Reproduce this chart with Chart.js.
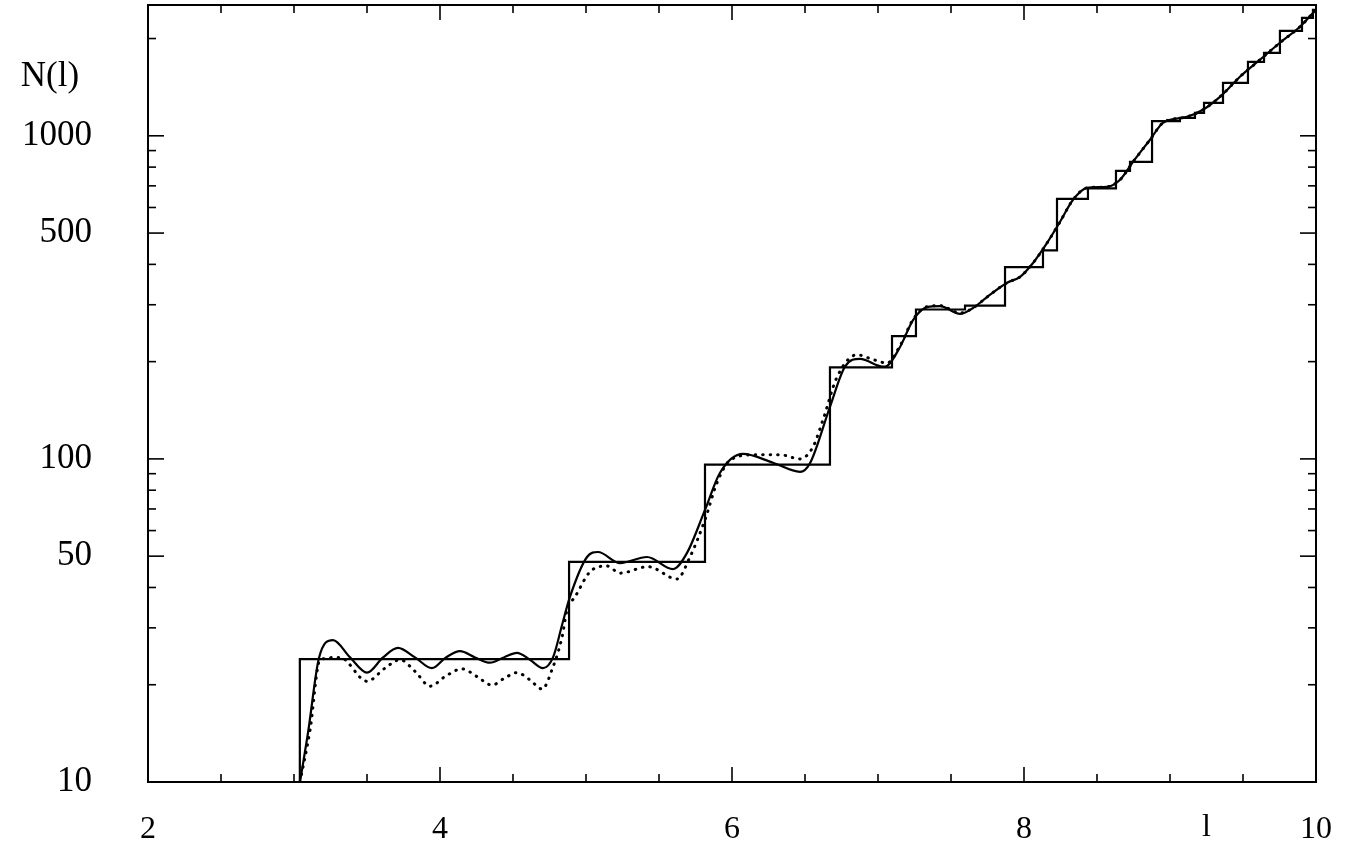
<!DOCTYPE html>
<html>
<head>
<meta charset="utf-8">
<script src="https://cdn.jsdelivr.net/npm/chart.js@4.4.1/dist/chart.umd.min.js"></script>
<style>
    html, body { margin: 0; padding: 0; background: #fff; }
    #wrap { width: 1349px; height: 845px; }
</style>
</head>
<body>
<div id="wrap"><canvas id="countChart" width="1349" height="845"></canvas></div>
<script>
/* ===============================
   DATA
================================ */
// staircase: l where N jumps, and the new N
const stairL = [2.0, 3.04, 4.884, 5.815, 6.671, 7.096, 7.26, 7.596, 7.87, 8.13, 8.226, 8.438, 8.63, 8.726, 8.877, 9.068, 9.171, 9.233, 9.363, 9.534, 9.644, 9.753, 9.904, 9.979, 10.0];
const stairN = [5, 24, 48, 96, 192, 240, 290, 298, 392, 442, 638, 688, 779, 830, 1110, 1137, 1178, 1265, 1459, 1694, 1807, 2113, 2318, 2455, 2455];

// smooth solid curve
const solidL = [3.041, 3.096, 3.171, 3.267, 3.384, 3.5, 3.61, 3.712, 3.829, 3.945, 4.041, 4.137, 4.24, 4.342, 4.438, 4.527, 4.616, 4.705, 4.774, 4.836, 4.89, 5.007, 5.082, 5.233, 5.418, 5.596, 5.692, 5.815, 5.918, 6.075, 6.281, 6.466, 6.534, 6.671, 6.774, 6.877, 7.034, 7.062, 7.151, 7.24, 7.336, 7.425, 7.562, 7.651, 7.747, 7.884, 7.973, 8.062, 8.158, 8.247, 8.336, 8.432, 8.568, 8.658, 8.747, 8.863, 8.952, 9.116, 9.226, 9.342, 9.479, 9.616, 9.753, 9.89, 10.0];
const solidN = [10, 14.2, 24.2, 27.5, 24.3, 21.8, 24.3, 26.0, 24.3, 22.5, 24.3, 25.4, 24.3, 23.4, 24.3, 25.1, 23.9, 22.5, 24.3, 30.6, 37.4, 49.7, 51.5, 47.6, 49.7, 45.6, 51.2, 69.5, 90.6, 103.6, 97.3, 91.2, 97, 145, 193, 204, 193, 194, 222, 269, 295, 297, 281, 293, 317, 351, 366, 404, 466, 542, 634, 690, 695, 731, 831, 972, 1097, 1145, 1204, 1320, 1523, 1719, 1941, 2175, 2455];

// dotted curve
const dottedL = [3.041, 3.11, 3.178, 3.315, 3.5, 3.623, 3.726, 3.829, 3.932, 4.041, 4.151, 4.253, 4.356, 4.445, 4.527, 4.616, 4.699, 4.774, 4.836, 4.87, 4.925, 5.027, 5.144, 5.233, 5.425, 5.623, 5.712, 5.815, 5.897, 5.986, 6.144, 6.329, 6.466, 6.555, 6.623, 6.719, 6.856, 6.966, 7.062, 7.151, 7.24, 7.336, 7.425, 7.562, 7.651, 7.747, 7.884, 7.973, 8.062, 8.158, 8.247, 8.336, 8.432, 8.568, 8.658, 8.747, 8.863, 8.952, 9.116, 9.226, 9.342, 9.479, 9.616, 9.753, 9.89, 10.0];
const dottedN = [10, 14.5, 23.9, 24.3, 20.5, 22.5, 23.9, 22.0, 19.8, 21.3, 22.4, 21.2, 19.95, 21.0, 21.8, 20.7, 19.4, 22.7, 28.1, 34.1, 37.4, 44.7, 46.6, 44.3, 46.4, 42.5, 49.7, 64.8, 84.3, 99, 102.9, 103, 100, 109, 132, 179, 210, 203, 198, 224, 270, 296, 298, 283, 293, 317, 351, 366, 404, 466, 542, 634, 690, 695, 731, 831, 972, 1097, 1145, 1204, 1320, 1523, 1719, 1941, 2175, 2455];

// axis ticks
const xLabelTicks = [2, 4, 6, 8, 10];
const xMinorTicks = [2.5, 3, 3.5, 4.5, 5, 5.5, 6.5, 7, 7.5, 8.5, 9, 9.5];
const yLabelTicks = [10, 50, 100, 500, 1000];
const yMinorTicks = [20, 30, 40, 60, 70, 80, 90, 200, 300, 400, 600, 700, 800, 900, 2000];

const serif = "'Liberation Serif', 'DejaVu Serif', serif";

/* ===============================
   HELPERS
================================ */
const toPoints = (xs, ys) => xs.map((v, i) => ({ x: v, y: ys[i] }));

// frame, inward ticks, axis titles
const frameTicks = {
    id: "frameTicks",
    afterDatasetsDraw(chart) {
        const { ctx, chartArea: a, scales: { x, y } } = chart;
        const seg = (x1, y1, x2, y2) => {
            ctx.beginPath();
            ctx.moveTo(x1, y1);
            ctx.lineTo(x2, y2);
            ctx.stroke();
        };
        ctx.save();
        ctx.strokeStyle = "#000";
        ctx.lineWidth = 2;
        ctx.strokeRect(a.left, a.top, a.right - a.left, a.bottom - a.top);

        ctx.lineWidth = 1.6;
        xLabelTicks.concat(xMinorTicks).forEach(v => {
            const px = x.getPixelForValue(v);
            const len = xLabelTicks.includes(v) ? 15 : 8;
            seg(px, a.bottom, px, a.bottom - len);
            seg(px, a.top, px, a.top + len);
        });
        yLabelTicks.concat(yMinorTicks).forEach(v => {
            const py = y.getPixelForValue(v);
            const len = yLabelTicks.includes(v) ? 16 : 8;
            seg(a.left, py, a.left + len, py);
            seg(a.right, py, a.right - len, py);
        });

        ctx.fillStyle = "#000";
        ctx.font = "35px " + serif;
        ctx.textAlign = "center";
        ctx.textBaseline = "middle";
        ctx.fillText("N(l)", a.left - 98, a.top + 72);
        ctx.font = "32px " + serif;
        ctx.fillText("l", x.getPixelForValue(9.25), a.bottom + 46);
        ctx.restore();
    }
};

/* ===============================
   CHART
================================ */
document.addEventListener("DOMContentLoaded", () => {
    const ctx = document.getElementById("countChart").getContext("2d");

    new Chart(ctx, {
        type: "line",
        data: {
            datasets: [
                {
                    label: "dotted",
                    data: toPoints(dottedL, dottedN),
                    borderColor: "#000",
                    borderWidth: 3,
                    borderDash: [0.5, 7],
                    borderCapStyle: "round",
                    cubicInterpolationMode: "monotone",
                    pointRadius: 0
                },
                {
                    label: "smooth",
                    data: toPoints(solidL, solidN),
                    borderColor: "#000",
                    borderWidth: 2.2,
                    cubicInterpolationMode: "monotone",
                    pointRadius: 0
                },
                {
                    label: "N(l)",
                    data: toPoints(stairL, stairN),
                    borderColor: "#000",
                    borderWidth: 2.2,
                    stepped: "before",
                    pointRadius: 0
                }
            ]
        },
        options: {
            responsive: false,
            animation: false,
            devicePixelRatio: 1,
            layout: { padding: { top: 5, right: 33, left: 0, bottom: 0 } },
            plugins: {
                legend: { display: false },
                tooltip: { enabled: false }
            },
            scales: {
                x: {
                    type: "linear",
                    min: 2,
                    max: 10,
                    grid: { display: false, drawTicks: false },
                    border: { display: false },
                    afterBuildTicks: scale => {
                        scale.ticks = xLabelTicks.map(v => ({ value: v }));
                    },
                    afterFit: scale => {
                        scale.height = 63;
                        scale.paddingLeft = 0;
                        scale.paddingRight = 0;
                    },
                    ticks: {
                        padding: 28,
                        color: "#000",
                        font: { family: serif, size: 32 },
                        maxRotation: 0
                    }
                },
                y: {
                    type: "logarithmic",
                    min: 10,
                    max: 2540,
                    grid: { display: false, drawTicks: false },
                    border: { display: false },
                    afterBuildTicks: scale => {
                        scale.ticks = yLabelTicks.map(v => ({ value: v }));
                    },
                    afterFit: scale => {
                        scale.width = 148;
                        scale.paddingTop = 0;
                        scale.paddingBottom = 0;
                    },
                    ticks: {
                        padding: 56,
                        color: "#000",
                        font: { family: serif, size: 35 },
                        callback: value => String(value)
                    }
                }
            }
        },
        plugins: [frameTicks]
    });
});
</script>
</body>
</html>
